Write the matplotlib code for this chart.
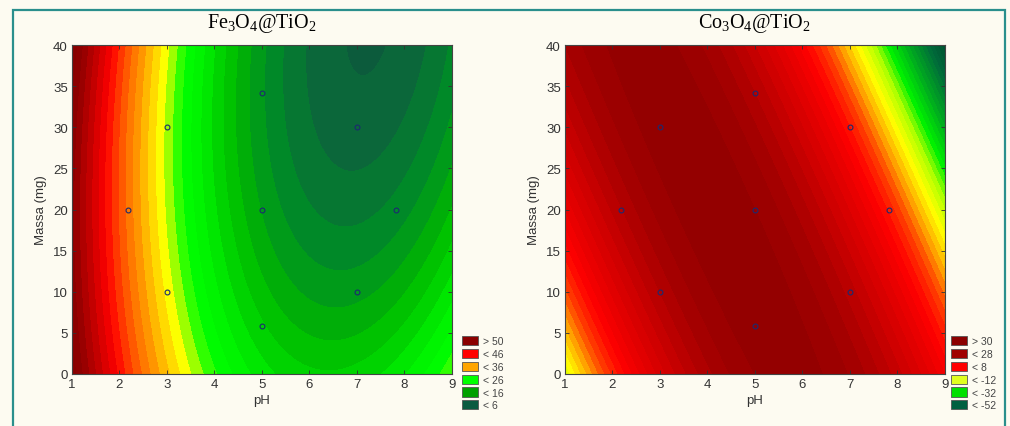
import numpy as np
import matplotlib
matplotlib.use("Agg")
import matplotlib.pyplot as plt
from matplotlib.colors import LinearSegmentedColormap, Normalize
from matplotlib.patches import Patch, Rectangle

# fitted quadratic models: b0, pH, pH^2, massa, massa^2, pH*massa
fe_coef = [75.75, -17.98, 1.405, -0.22, 0.00725, -0.0562]
co_coef = [-32.19, 22.125, -1.9375, 1.75, -0.0125, -0.30]

# experimental design points (pH, massa)
ph_pts = [3, 3, 7, 7, 2.17, 7.83, 5, 5, 5]
massa_pts = [10, 30, 10, 30, 20, 20, 5.86, 34.14, 20]

# colour anchors (value, colour) and legend entries
fe_anchor_vals = [2, 6, 11, 16, 22, 26, 31, 36, 41, 46, 50, 56, 62]
fe_anchor_cols = ['#0a5238', '#0d5f3e', '#008a28', '#00b800', '#00f000', '#00ff00', '#ffff00',
                  '#ffa500', '#ff5a00', '#ff0000', '#d00000', '#900000', '#800000']
fe_leg_labels = ['> 50', '< 46', '< 36', '< 26', '< 16', '< 6']
fe_leg_cols = ['#8b0000', '#ff0000', '#ffa500', '#00ff00', '#00a000', '#0a5a40']

co_anchor_vals = [-52, -40, -30, -21, -15, -9, -3, 2, 8, 20, 28, 34]
co_anchor_cols = ['#00452c', '#006a3a', '#00a820', '#00f000', '#b0ff00', '#ffff00',
                  '#ffa000', '#ff4000', '#ff0000', '#cc0000', '#a00000', '#8b0000']
co_leg_labels = ['> 30', '< 28', '< 8', '< -12', '< -32', '< -52']
co_leg_cols = ['#8b0000', '#a00000', '#ff0000', '#e0ff20', '#00e000', '#006040']

titles = [r'$\mathrm{Fe_3O_4@TiO_2}$', r'$\mathrm{Co_3O_4@TiO_2}$']

bg = '#fdfbf1'
teal = '#2a8f8c'

plt.rcParams['font.family'] = ['Liberation Sans', 'DejaVu Sans']
plt.rcParams['mathtext.fontset'] = 'custom'
plt.rcParams['mathtext.rm'] = 'Liberation Serif'

fig = plt.figure(figsize=(10.1, 4.27), dpi=100, facecolor=bg)

frame = Rectangle((13 / 1010, -0.2), 992 / 1010, 1.174, transform=fig.transFigure,
                  fill=False, edgecolor=teal, lw=1.6)
fig.patches.append(frame)

ph = np.linspace(1, 9, 400)
massa = np.linspace(0, 40, 400)
PH, M = np.meshgrid(ph, massa)


def surface(c):
    return c[0] + c[1] * PH + c[2] * PH ** 2 + c[3] * M + c[4] * M ** 2 + c[5] * PH * M


def make_cmap(vals, cols):
    lo, hi = vals[0], vals[-1]
    pos = [(v - lo) / (hi - lo) for v in vals]
    return LinearSegmentedColormap.from_list('s', list(zip(pos, cols))), Normalize(lo, hi)


panels = [
    (0.0713, fe_coef, fe_anchor_vals, fe_anchor_cols, fe_leg_labels, fe_leg_cols, 462),
    (0.5594, co_coef, co_anchor_vals, co_anchor_cols, co_leg_labels, co_leg_cols, 951),
]

for i, (x0, coef, av, ac, ll, lc, legx) in enumerate(panels):
    ax = fig.add_axes([x0, 0.1218, 0.376, 0.770])
    Z = surface(coef)
    cmap, norm = make_cmap(av, ac)
    levels = np.arange(av[0], av[-1] + 2, 2)
    ax.contourf(PH, M, Z, levels=levels, cmap=cmap, norm=norm, extend='both')
    ax.plot(ph_pts, massa_pts, 'o', ms=3.5, mfc='none', mec='#1c2a70', mew=0.8)
    ax.set_xlim(1, 9)
    ax.set_ylim(0, 40)
    ax.set_xticks(range(1, 10))
    ax.set_yticks(range(0, 45, 5))
    ax.tick_params(direction='in', length=3, width=0.6, top=True, right=True,
                   labelsize=9.5, colors='#333333', pad=3)
    for s in ax.spines.values():
        s.set_color('#444444')
        s.set_linewidth(0.8)
    ax.set_xlabel('pH', fontsize=9.5, color='#333333', labelpad=3)
    ax.set_ylabel('Massa (mg)', fontsize=9.5, color='#333333', labelpad=4)
    ax.set_title(titles[i], fontsize=14.5, pad=13)

    handles = [Patch(facecolor=c, edgecolor='#555555', lw=0.6) for c in lc]
    fig.legend(handles, ll, loc='upper left', bbox_to_anchor=(legx / 1010, 1 - 337 / 427),
               frameon=False, fontsize=7.5, handlelength=1.55, handleheight=1.0,
               labelspacing=0.25, handletextpad=0.45, borderpad=0, borderaxespad=0,
               labelcolor='#444444')

fig.savefig('out.png', dpi=100, facecolor=bg)
